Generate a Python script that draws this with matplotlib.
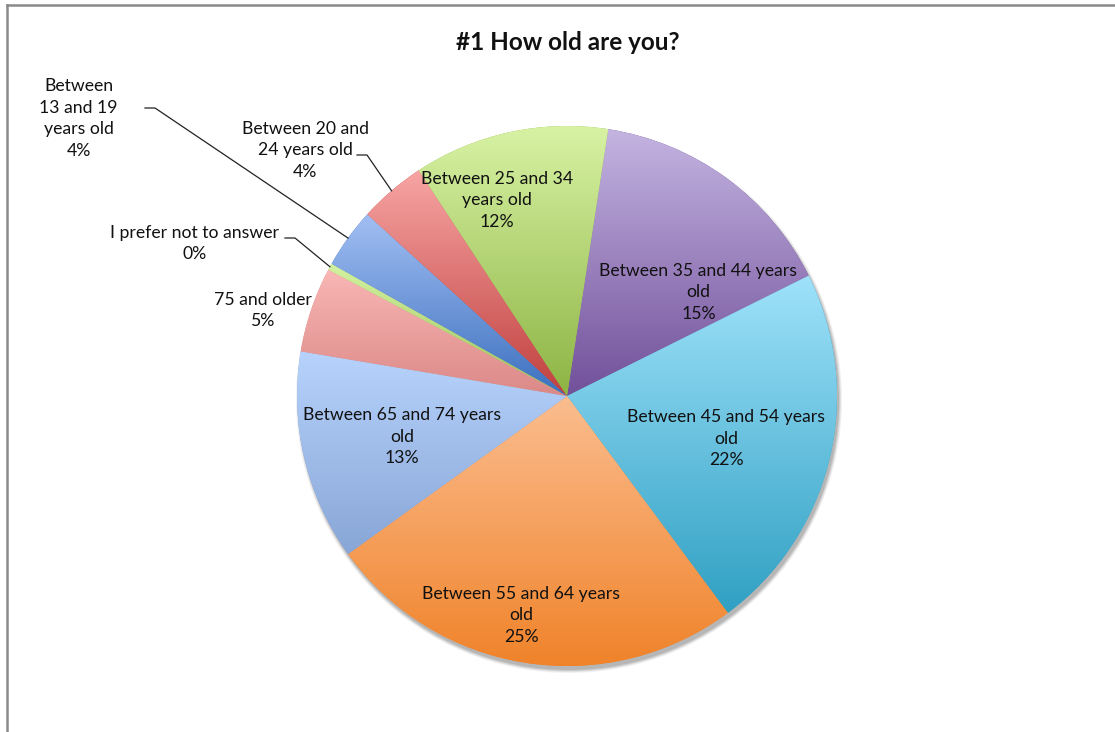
import numpy as np
import matplotlib
matplotlib.use("Agg")
import matplotlib.pyplot as plt
from matplotlib.colors import to_rgb
from matplotlib.patches import Circle
from matplotlib.lines import Line2D

# Data (clockwise from the top, as Excel draws it)
names = ["Between 35 and 44 years\nold", "Between 45 and 54 years\nold",
         "Between 55 and 64 years\nold", "Between 65 and 74 years\nold",
         "75 and older", "I prefer not to answer",
         "Between\n13 and 19\nyears old", "Between 20 and\n24 years old",
         "Between 25 and 34\nyears old"]
values = [15.2, 22.2, 25.2, 12.6, 5.1, 0.4, 3.6, 4.0, 11.7]

# gradient colours per slice: (top, bottom)
top_colors = ["#c4b4e1", "#9fe2fa", "#fbbd8f", "#b7d3fd", "#f9b7b5",
              "#d4f2a2", "#a2bff3", "#f7a5a4", "#d8f2a4"]
bottom_colors = ["#71509a", "#30a0c3", "#f0832a", "#88a6d6", "#db8987",
                 "#9cc258", "#3c70bf", "#c0403e", "#8db444"]

W, H = 1115, 732
CX, CY, R = 567, 396, 270

plt.rcParams['font.family'] = ['Lato', 'DejaVu Sans']

fig = plt.figure(figsize=(W / 100, H / 100), dpi=100)
fig.set_facecolor("white")
ax = fig.add_axes([0, 0, 1, 1])
ax.set_xlim(0, W)
ax.set_ylim(0, H)
ax.set_aspect("equal")
ax.axis("off")


def px(x, y):
    return x, H - y


center = px(CX, CY)

# soft shadow under the pie
for dr, a in [(3, 0.05), (2, 0.07), (1, 0.09), (0, 0.10)]:
    ax.add_patch(Circle((center[0] + 2, center[1] - 4), R + dr,
                        facecolor="black", alpha=a, edgecolor="none", zorder=1))

wedges, _ = ax.pie(values, startangle=81.2, counterclock=False, center=center,
                   radius=R, colors=bottom_colors,
                   wedgeprops=dict(edgecolor="none", linewidth=0, zorder=2))

# vertical gradient inside each wedge
for w, c_top, c_bot in zip(wedges, top_colors, bottom_colors):
    bb = w.get_path().get_extents()
    t = np.linspace(0, 1, 256)[:, None]
    grad = (1 - t) * np.array(to_rgb(c_top)) + t * np.array(to_rgb(c_bot))
    grad = np.repeat(grad[:, None, :], 2, axis=1)
    im = ax.imshow(grad, extent=(bb.x0, bb.x1, bb.y0, bb.y1), origin="upper",
                   aspect="auto", interpolation="bilinear", zorder=3)
    im.set_clip_path(w)

ax.set_xlim(0, W)
ax.set_ylim(0, H)

total = sum(values)
# label placement: (clockwise angle shift from wedge middle, radius fraction)
label_place = [(15.6, 0.62), (1.6, 0.61), (3.0, 0.83), (-0.7, 0.63),
               (-3.0, 1.17), (-6.3, 1.49), (-6.2, 2.08), (-6.3, 1.33),
               (-7.5, 0.77)]

for w, name, v, (shift, frac) in zip(wedges, names, values, label_place):
    mid = np.deg2rad((w.theta1 + w.theta2) / 2 - shift)
    x = center[0] + frac * R * np.cos(mid)
    y = center[1] + frac * R * np.sin(mid)
    pct = int(round(v / total * 100))
    ax.text(x, y, f"{name}\n{pct}%", ha="center", va="center", fontsize=12.7,
            color="#111111", linespacing=1.42, zorder=5)

# leader lines for the small slices (wedge index, elbow, end)
leaders = [(5, (295, 238), (285, 238)),
           (6, (155, 108), (145, 108)),
           (7, (367, 155), (357, 155))]
for i, elbow, end in leaders:
    w = wedges[i]
    mid = np.deg2rad((w.theta1 + w.theta2) / 2)
    ex = center[0] + R * np.cos(mid)
    ey = center[1] + R * np.sin(mid)
    ax.plot([ex, px(*elbow)[0], px(*end)[0]], [ey, px(*elbow)[1], px(*end)[1]],
            color="#222222", linewidth=0.9, zorder=4)

ax.text(*px(568, 42), "#1 How old are you?", ha="center", va="center",
        fontsize=17.5, fontweight="bold", color="#111111")

# chart frame (left and top edges)
fig.add_artist(Line2D([7 / W, 7 / W], [0, 1 - 5 / H], transform=fig.transFigure,
                      color="#8a8a8a", linewidth=1.8))
fig.add_artist(Line2D([7 / W, 1], [1 - 5 / H, 1 - 5 / H], transform=fig.transFigure,
                      color="#8a8a8a", linewidth=1.8))

fig.savefig("out.png", dpi=100, facecolor="white")
